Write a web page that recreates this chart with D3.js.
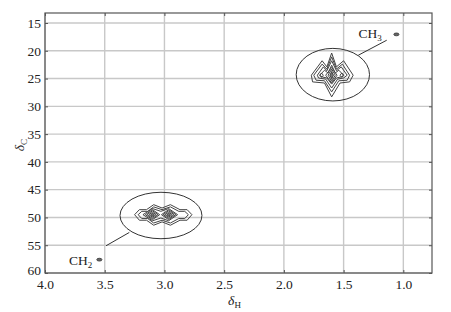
<!DOCTYPE html>
<html>
<head>
<meta charset="utf-8">
<script src="https://cdn.jsdelivr.net/npm/d3@7"></script>
<style>
  body { margin: 0; background: #fff; }
  .tick text { font-family: "Liberation Serif", "Times New Roman", serif; font-size: 13.5px; fill: #222; }
  .lbl { font-family: "Liberation Serif", "Times New Roman", serif; fill: #222; }
</style>
</head>
<body>
<div class="chart"></div>
<script>
// Chart values (delta H in ppm, delta C in ppm)
var xTicks = [4.0, 3.5, 3.0, 2.5, 2.0, 1.5, 1.0];
var yTicks = [15, 20, 25, 30, 35, 40, 45, 50, 55, 60];

// CH3 cross peak contours, outer to inner
var ch3Contours = [
  [[1.77,24.4],[1.68,21.8],[1.64,22.9],[1.60,20.4],[1.56,22.9],[1.50,21.8],[1.42,24.4],[1.45,25.6],[1.53,25.8],[1.60,28.3],[1.66,25.8],[1.76,25.6]],
  [[1.75,24.4],[1.68,22.4],[1.64,23.3],[1.60,21.1],[1.56,23.3],[1.51,22.4],[1.45,24.4],[1.47,25.3],[1.54,25.4],[1.60,27.4],[1.66,25.4],[1.73,25.3]],
  [[1.72,24.4],[1.67,22.9],[1.64,23.6],[1.60,21.8],[1.56,23.6],[1.52,22.9],[1.47,24.4],[1.50,24.9],[1.55,25.1],[1.60,26.7],[1.65,25.1],[1.71,24.9]],
  [[1.70,24.4],[1.66,23.5],[1.63,24.0],[1.60,22.6],[1.57,24.0],[1.54,23.5],[1.50,24.4],[1.52,24.7],[1.56,24.9],[1.60,26.0],[1.64,24.9],[1.68,24.7]],
  [[1.70,24.4],[1.685,24.0],[1.67,24.4],[1.685,24.8]],
  [[1.50,24.4],[1.515,24.0],[1.53,24.4],[1.515,24.8]],
  [[1.65,24.4],[1.60,23.0],[1.555,24.4],[1.60,25.8]],
  [[1.63,24.4],[1.60,23.3],[1.57,24.4],[1.60,25.5]],
  [[1.615,24.4],[1.60,23.8],[1.585,24.4],[1.60,25.0]]
];

// CH2 cross peak contours, outer to inner
var ch2Contours = [
  [[3.25,49.5],[3.21,48.6],[3.15,48.6],[3.09,47.7],[3.02,48.3],[2.95,47.7],[2.87,48.6],[2.81,48.6],[2.77,49.5],[2.81,50.5],[2.87,50.5],[2.95,51.4],[3.02,50.8],[3.09,51.4],[3.15,50.5],[3.21,50.5]],
  [[3.22,49.5],[3.19,48.9],[3.14,48.9],[3.09,48.1],[3.02,48.6],[2.95,48.1],[2.88,48.9],[2.83,48.9],[2.80,49.5],[2.83,50.2],[2.88,50.2],[2.95,51.0],[3.02,50.5],[3.09,51.0],[3.14,50.2],[3.19,50.2]],
  [[3.18,49.5],[3.10,48.4],[3.03,48.9],[2.965,48.4],[2.89,49.5],[2.965,50.6],[3.03,50.1],[3.10,50.6]],
  [[3.16,49.5],[3.10,48.6],[3.04,49.5],[3.10,50.4]],
  [[3.145,49.5],[3.10,48.8],[3.055,49.5],[3.10,50.2]],
  [[3.13,49.5],[3.10,49.05],[3.07,49.5],[3.10,49.95]],
  [[3.115,49.5],[3.10,49.25],[3.085,49.5],[3.10,49.75]],
  [[3.025,49.5],[2.965,48.6],[2.905,49.5],[2.965,50.4]],
  [[3.01,49.5],[2.965,48.8],[2.92,49.5],[2.965,50.2]],
  [[2.995,49.5],[2.965,49.05],[2.935,49.5],[2.965,49.95]],
  [[2.98,49.5],[2.965,49.25],[2.95,49.5],[2.965,49.75]]
];
// innermost contours drawn shaded (dense centre)
var ch3Cores = [[[1.615,24.4],[1.60,23.4],[1.585,24.4],[1.60,25.4]]];
var ch2Cores = [[[3.115,49.5],[3.10,49.15],[3.085,49.5],[3.10,49.85]], [[2.98,49.5],[2.965,49.15],[2.95,49.5],[2.965,49.85]]];

// Circled regions: center H, center C, half width H, half height C
var circles = [[1.59, 24.3, 0.307, 4.73], [3.029, 49.65, 0.343, 4.18]];
// Small isolated spots
var spots = [[1.058, 17.05], [3.545, 57.6]];
// Labels with their leader lines
var labels = ["CH", "CH"];
var labelSubs = ["3", "2"];
var labelPos = [[1.375, 17.7], [3.80, 58.6]];
var leaders = [[[1.377, 20.8], [1.139, 18.1]], [[3.294, 52.7], [3.489, 55.1]]];

var svgWidth = 451;
var svgHeight = 312;
var margin = {top: 13, right: 19, bottom: 39, left: 45};
var width = svgWidth - margin.left - margin.right;
var height = svgHeight - margin.top - margin.bottom;

var svg = d3.select('.chart')
  .append('svg')
  .attr('width', svgWidth)
  .attr('height', svgHeight)
  .append('g')
  .attr('transform', 'translate(' + margin.left + ',' + margin.top + ')');

var x = d3.scaleLinear().domain([4.0, 0.76]).range([0, width]);
var y = d3.scaleLinear().domain([13.2, 60]).range([0, height]);

// grid
svg.append('g').selectAll('line').data(xTicks).enter().append('line')
  .attr('x1', function(d) { return x(d); }).attr('x2', function(d) { return x(d); })
  .attr('y1', 0).attr('y2', height)
  .attr('stroke', '#c8c8c8').attr('stroke-width', 1.4);
svg.append('g').selectAll('line').data(yTicks).enter().append('line')
  .attr('y1', function(d) { return y(d); }).attr('y2', function(d) { return y(d); })
  .attr('x1', 0).attr('x2', width)
  .attr('stroke', '#c8c8c8').attr('stroke-width', 1.4);

// frame with inner ticks
svg.append('rect').attr('width', width).attr('height', height)
  .attr('fill', 'none').attr('stroke', '#555').attr('stroke-width', 1.2);

var bottomAxis = d3.axisBottom(x).tickValues(xTicks).tickFormat(d3.format('.1f')).tickSizeInner(-3).tickSizeOuter(0).tickPadding(6);
var leftAxis = d3.axisLeft(y).tickValues(yTicks).tickSizeInner(-3).tickSizeOuter(0).tickPadding(4);
var topAxis = d3.axisTop(x).tickValues(xTicks).tickFormat('').tickSizeInner(-3).tickSizeOuter(0);
var rightAxis = d3.axisRight(y).tickValues(yTicks).tickFormat('').tickSizeInner(-3).tickSizeOuter(0);

var gLeft = svg.append('g').call(leftAxis);
[svg.append('g').attr('transform', 'translate(0,' + height + ')').call(bottomAxis),
 gLeft,
 svg.append('g').call(topAxis),
 svg.append('g').attr('transform', 'translate(' + width + ',0)').call(rightAxis)
].forEach(function(g) {
  g.select('.domain').remove();
  g.selectAll('.tick line').attr('stroke', '#555');
});
// the bottom "60" sits a little higher, clear of "4.0"
gLeft.selectAll('.tick text').filter(function(d) { return d === 60; }).attr('dy', '0.1em');

// contours
var line = d3.line()
  .x(function(d) { return x(d[0]); })
  .y(function(d) { return y(d[1]); })
  .curve(d3.curveLinearClosed);

svg.append('g').selectAll('path').data(ch3Cores.concat(ch2Cores)).enter().append('path')
  .attr('d', line)
  .attr('fill', '#777')
  .attr('stroke', 'none');

svg.append('g').selectAll('path').data(ch3Contours.concat(ch2Contours)).enter().append('path')
  .attr('d', line)
  .attr('fill', 'none')
  .attr('stroke', '#444')
  .attr('stroke-width', 1);

svg.append('g').selectAll('ellipse').data(circles).enter().append('ellipse')
  .attr('cx', function(d) { return x(d[0]); })
  .attr('cy', function(d) { return y(d[1]); })
  .attr('rx', function(d) { return x(d[0] - d[2]) - x(d[0]); })
  .attr('ry', function(d) { return y(d[1] + d[3]) - y(d[1]); })
  .attr('fill', 'none')
  .attr('stroke', '#333')
  .attr('stroke-width', 1);

svg.append('g').selectAll('ellipse').data(spots).enter().append('ellipse')
  .attr('cx', function(d) { return x(d[0]); })
  .attr('cy', function(d) { return y(d[1]); })
  .attr('rx', 2.6).attr('ry', 1.4)
  .attr('fill', '#666').attr('stroke', '#333').attr('stroke-width', 0.8);

svg.append('g').selectAll('line').data(leaders).enter().append('line')
  .attr('x1', function(d) { return x(d[0][0]); })
  .attr('y1', function(d) { return y(d[0][1]); })
  .attr('x2', function(d) { return x(d[1][0]); })
  .attr('y2', function(d) { return y(d[1][1]); })
  .attr('stroke', '#333').attr('stroke-width', 1);

var lab = svg.append('g').selectAll('text').data(labels).enter().append('text')
  .attr('class', 'lbl')
  .attr('x', function(d, i) { return x(labelPos[i][0]); })
  .attr('y', function(d, i) { return y(labelPos[i][1]); })
  .style('font-size', '13.5px')
  .text(function(d) { return d; });
lab.append('tspan')
  .attr('dy', 3).style('font-size', '9px')
  .text(function(d, i) { return labelSubs[i]; });

// axis titles
var xt = svg.append('text').attr('class', 'lbl')
  .attr('x', width / 2 - 4).attr('y', height + 32)
  .attr('text-anchor', 'middle').style('font-size', '13.5px');
xt.append('tspan').style('font-style', 'italic').text('δ');
xt.append('tspan').attr('dy', 3).style('font-size', '9px').text('H');

var yt = svg.append('text').attr('class', 'lbl')
  .attr('transform', 'translate(' + (-21) + ',' + (height / 2 + 2) + ') rotate(-90)')
  .attr('text-anchor', 'middle').style('font-size', '13.5px');
yt.append('tspan').style('font-style', 'italic').text('δ');
yt.append('tspan').attr('dy', 3).style('font-size', '9px').text('C');
</script>
</body>
</html>
